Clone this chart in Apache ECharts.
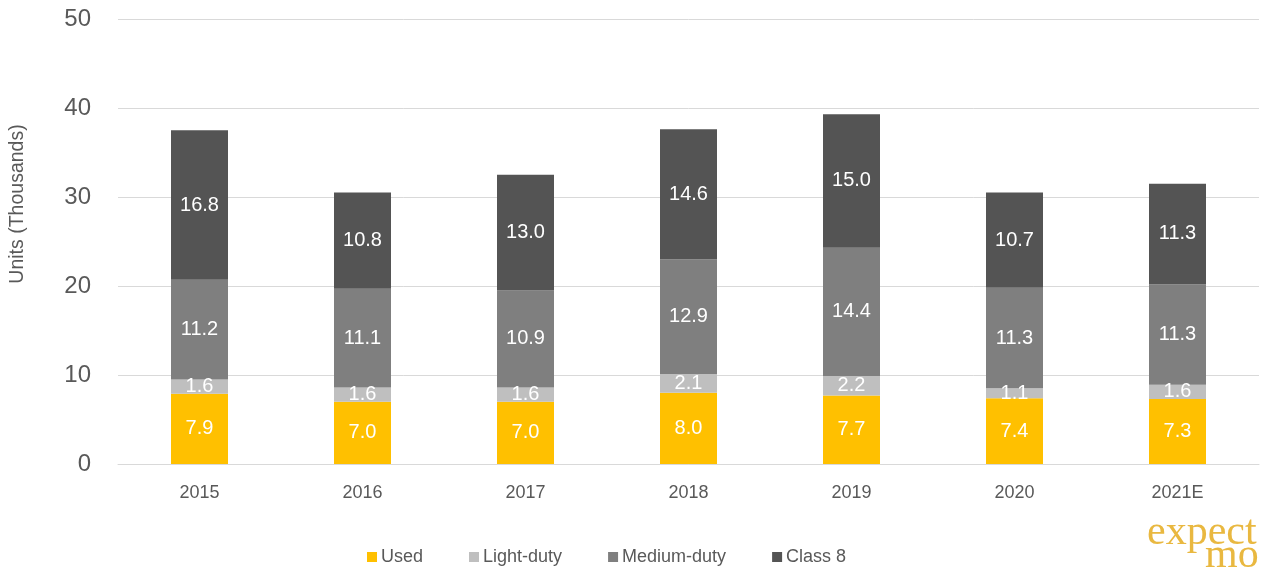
<!DOCTYPE html>
<html>
<head>
<meta charset="utf-8">
<script src="https://cdn.jsdelivr.net/npm/echarts@6/dist/echarts.min.js"></script>
<style>
html,body{margin:0;padding:0;background:#fff;}
#chart{width:1263px;height:574px;}
</style>
</head>
<body>
<div id="chart"></div>
<script>
var categories = ['2015', '2016', '2017', '2018', '2019', '2020', '2021E'];
var used = [7.9, 7.0, 7.0, 8.0, 7.7, 7.4, 7.3];
var lightDuty = [1.6, 1.6, 1.6, 2.1, 2.2, 1.1, 1.6];
var mediumDuty = [11.2, 11.1, 10.9, 12.9, 14.4, 11.3, 11.3];
var class8 = [16.8, 10.8, 13.0, 14.6, 15.0, 10.7, 11.3];
var yTicks = [0, 10, 20, 30, 40, 50];

var FONT = "'Liberation Sans', Arial, sans-serif";
var chart = echarts.init(document.getElementById('chart'), null, {renderer: 'canvas'});

function mk(name, data, color) {
  return {
    name: name,
    type: 'bar',
    stack: 'total',
    data: data,
    barWidth: 57,
    itemStyle: {color: color},
    label: {
      show: true,
      position: 'inside',
      color: '#ffffff',
      fontFamily: FONT,
      fontSize: 20,
      formatter: function (p) { return p.value.toFixed(1); }
    },
    emphasis: {disabled: true}
  };
}

chart.setOption({
  animation: false,
  backgroundColor: '#ffffff',
  textStyle: {fontFamily: FONT},
  grid: {left: 118, right: 4, top: 19, bottom: 110, containLabel: false},
  legend: {
    left: 362,
    top: 543,
    itemWidth: 10,
    itemHeight: 10,
    itemGap: 46,
    icon: 'rect',
    textStyle: {color: '#595959', fontSize: 18, fontFamily: FONT, padding: [0, 0, 0, -1]},
    data: ['Used', 'Light-duty', 'Medium-duty', 'Class 8']
  },
  xAxis: {
    type: 'category',
    data: categories,
    axisTick: {show: false},
    axisLine: {lineStyle: {color: '#D9D9D9', width: 1}},
    axisLabel: {color: '#595959', fontSize: 18, fontFamily: FONT, margin: 20}
  },
  yAxis: {
    type: 'value',
    min: yTicks[0],
    max: yTicks[yTicks.length - 1],
    interval: 10,
    axisLine: {show: false},
    axisTick: {show: false},
    splitLine: {lineStyle: {color: '#D9D9D9', width: 1}},
    axisLabel: {color: '#595959', fontSize: 24, fontFamily: FONT, margin: 27}
  },
  graphic: [
    {
      type: 'text',
      x: 18,
      y: 204,
      rotation: Math.PI / 2,
      style: {
        text: 'Units (Thousands)',
        fill: '#595959',
        font: "19.5px 'Liberation Sans', Arial, sans-serif",
        align: 'center',
        verticalAlign: 'middle'
      }
    },
    {
      type: 'text',
      x: 1147,
      y: 554,
      style: {
        text: 'expect',
        fill: '#E9B840',
        font: "42px 'Liberation Serif', 'Times New Roman', serif",
        verticalAlign: 'bottom'
      }
    },
    {
      type: 'text',
      x: 1205,
      y: 577,
      style: {
        text: 'mo',
        fill: '#E9B840',
        font: "42px 'Liberation Serif', 'Times New Roman', serif",
        verticalAlign: 'bottom'
      }
    }
  ],
  series: [
    mk('Used', used, '#FFC000'),
    mk('Light-duty', lightDuty, '#BFBFBF'),
    mk('Medium-duty', mediumDuty, '#7F7F7F'),
    mk('Class 8', class8, '#545454')
  ]
});
</script>
</body>
</html>
